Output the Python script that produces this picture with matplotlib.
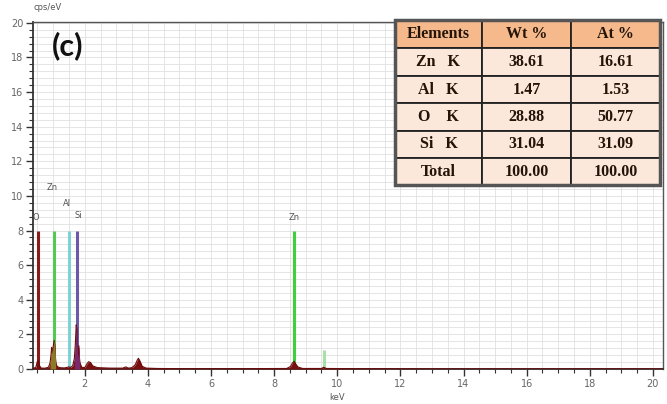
import matplotlib.pyplot as plt
from matplotlib.patches import Rectangle
from matplotlib.ticker import MultipleLocator
import numpy as np

# EDS spectrum
energy = [0.36, 0.45, 0.50, 0.53, 0.56, 0.62, 0.75, 0.85, 0.90, 0.93, 0.95, 0.97,
          1.00, 1.03, 1.05, 1.08, 1.12, 1.20, 1.35, 1.45, 1.50, 1.55, 1.62, 1.67,
          1.70, 1.73, 1.75, 1.77, 1.79, 1.81, 1.84, 1.90, 2.00, 2.07, 2.12, 2.18,
          2.25, 2.40, 2.80, 3.20, 3.30, 3.38, 3.50, 3.60, 3.66, 3.70, 3.75, 3.82,
          3.95, 4.30, 5.00, 7.00, 8.40, 8.52, 8.58, 8.63, 8.68, 8.75, 8.90, 9.50,
          9.57, 9.65, 10.5, 14.0, 20.3]
counts = [0.02, 0.10, 0.45, 0.48, 0.20, 0.05, 0.05, 0.10, 0.35, 0.80, 1.25, 0.90,
          1.30, 1.65, 1.40, 0.40, 0.15, 0.08, 0.06, 0.10, 0.12, 0.08, 0.20, 0.60,
          1.40, 2.55, 2.30, 0.90, 0.60, 1.35, 0.40, 0.10, 0.08, 0.30, 0.42, 0.38,
          0.18, 0.08, 0.05, 0.05, 0.12, 0.05, 0.08, 0.25, 0.50, 0.62, 0.45, 0.15,
          0.05, 0.03, 0.02, 0.02, 0.03, 0.15, 0.35, 0.45, 0.30, 0.12, 0.03, 0.03,
          0.10, 0.03, 0.02, 0.01, 0.01]

# element marker lines
marker_energy = [0.525, 1.012, 1.486, 1.740, 8.630, 9.570]
marker_height = [8.0, 8.0, 8.0, 8.0, 8.0, 1.1]
marker_color = ['#8b1a1a', '#55c855', '#7fd3d3', '#6a5aa8', '#3fcf3f', '#a8e0a8']
label_text = ['O', 'Zn', 'Al', 'Si', 'Zn']
label_energy = [0.45, 0.97, 1.45, 1.78, 8.63]
label_y = [8.5, 10.2, 9.3, 8.6, 8.5]

# quantification table
tbl_header = ['Elements', 'Wt %', 'At %']
tbl_elements = ['Zn   K', 'Al   K', 'O    K', 'Si   K', 'Total']
tbl_wt = ['38.61', '1.47', '28.88', '31.04', '100.00']
tbl_at = ['16.61', '1.53', '50.77', '31.09', '100.00']

fig = plt.figure(figsize=(6.67, 4.04), dpi=100)
ax = fig.add_axes([33 / 667, 35 / 404, 630 / 667, 347 / 404])

ax.set_xlim(0.36, 20.32)
ax.set_ylim(0, 20.05)

# grid
ax.xaxis.set_major_locator(MultipleLocator(2))
ax.xaxis.set_minor_locator(MultipleLocator(0.5))
ax.yaxis.set_major_locator(MultipleLocator(2))
ax.yaxis.set_minor_locator(MultipleLocator(0.4))
ax.grid(True, which='both', color='#e0e0e0', linewidth=0.6)
ax.set_axisbelow(True)

# markers
for e, h, c in zip(marker_energy, marker_height, marker_color):
    ax.vlines(e, 0, h, color=c, linewidth=2.2, zorder=3)
for t, e, y in zip(label_text, label_energy, label_y):
    ax.text(e, y, t, fontsize=6, color='#555555', ha='center', va='bottom', zorder=4)

# spectrum
energy = np.array(energy)
counts = np.array(counts)
ax.fill_between(energy, 0, counts, color='#7a0f0f', zorder=4, linewidth=0)
ax.plot(energy, counts, color='#6a0a0a', linewidth=0.8, zorder=4)
zn_win = (energy >= 0.88) & (energy <= 1.08)
ax.fill_between(energy, 0, counts, where=zn_win, color='#8c7a28', zorder=5, linewidth=0)
si_win = (energy >= 1.67) & (energy <= 1.84)
ax.fill_between(energy, 0, counts, where=si_win, color='#7a2a6a', zorder=5, linewidth=0)

# axes style
for s in ['left', 'bottom']:
    ax.spines[s].set_color('#333333')
    ax.spines[s].set_linewidth(1.3)
for s in ['top', 'right']:
    ax.spines[s].set_color('#555555')
    ax.spines[s].set_linewidth(1.0)
ax.tick_params(which='major', direction='out', length=5, width=1, color='#333333',
               labelsize=7, labelcolor='#666666', pad=2)
ax.tick_params(which='minor', direction='out', length=3, width=0.8, color='#333333')
ax.set_xticks([2, 4, 6, 8, 10, 12, 14, 16, 18, 20])
ax.set_yticks(range(0, 21, 2))

fig.text(33 / 667, 1 - 8 / 404, 'cps/eV', fontsize=6, color='#555555', va='center')
fig.text(337 / 667, 1 - 398 / 404, 'keV', fontsize=6, color='#555555', ha='center', va='center')
fig.text(68 / 667, 1 - 46 / 404, '(c)', fontsize=22, fontweight='bold', family='Lato',
         ha='center', va='center', color='#111111')

# table drawn in pixel coordinates
col_x = [395, 482, 571, 660]
row_y = [20, 48, 76, 103, 131, 158, 185]
W, H = 667.0, 404.0


def px_rect(x0, y0, x1, y1, **kw):
    r = Rectangle((x0 / W, 1 - y1 / H), (x1 - x0) / W, (y1 - y0) / H,
                  transform=fig.transFigure, **kw)
    fig.add_artist(r)


rows = [tbl_header] + [[a, b, c] for a, b, c in zip(tbl_elements, tbl_wt, tbl_at)]
for i, row in enumerate(rows):
    bg = '#f5b98c' if i == 0 else '#fbe8da'
    for j, txt in enumerate(row):
        px_rect(col_x[j], row_y[i], col_x[j + 1], row_y[i + 1], facecolor=bg,
                edgecolor='#222222', linewidth=1.3, zorder=10)
        fig.text((col_x[j] + col_x[j + 1]) / 2 / W, 1 - (row_y[i] + row_y[i + 1]) / 2 / H,
                 txt, ha='center', va='center', fontsize=11.5, fontweight='bold',
                 family='Liberation Serif', color='#241408', zorder=11)
px_rect(col_x[0], row_y[0], col_x[-1], row_y[-1], facecolor='none',
        edgecolor='#555555', linewidth=2.5, zorder=12)

fig.savefig('out.png', dpi=100)
